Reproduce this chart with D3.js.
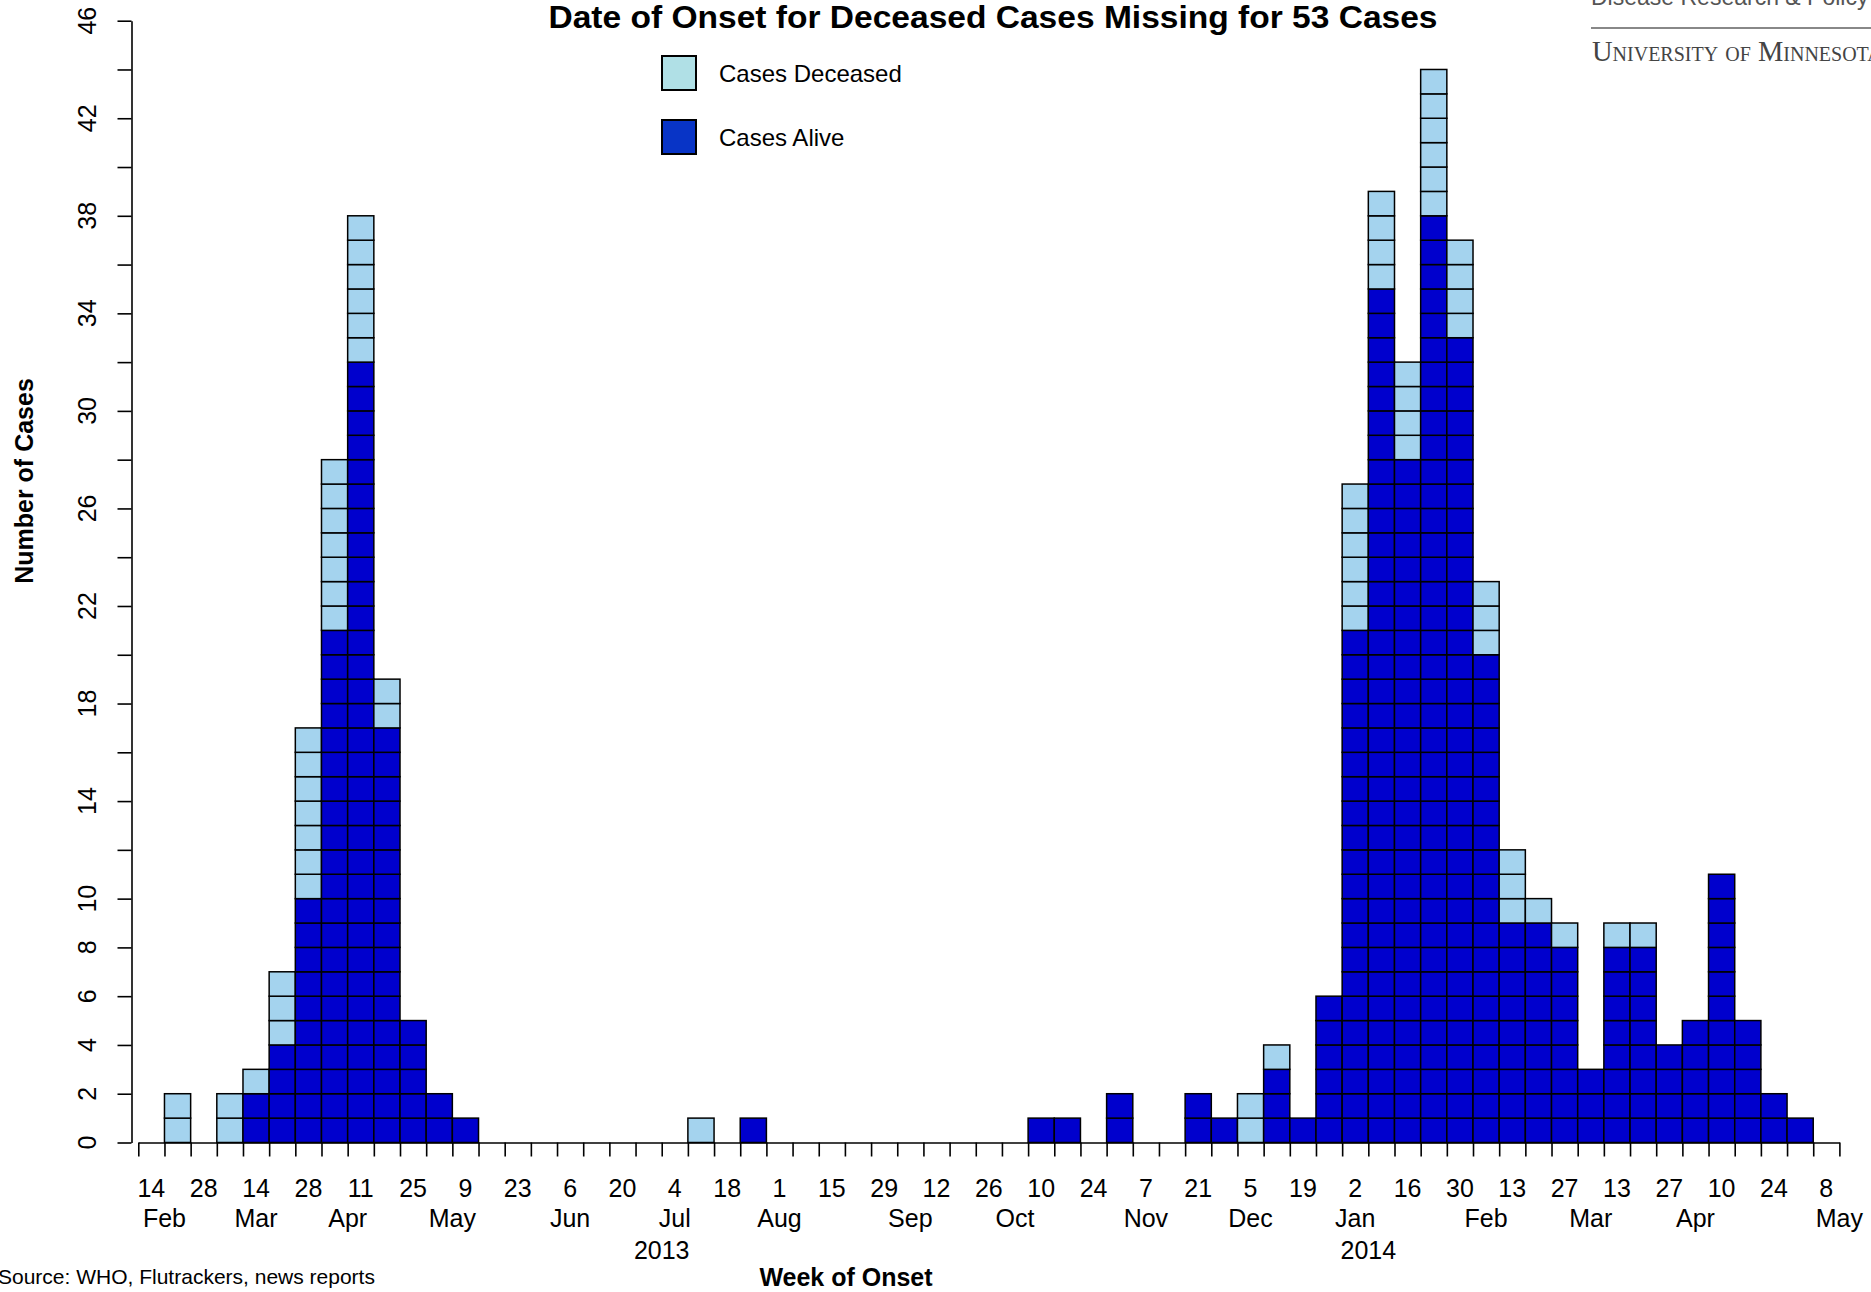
<!DOCTYPE html>
<html><head><meta charset="utf-8">
<script src="https://cdn.jsdelivr.net/npm/d3@7"></script>
<style>body{margin:0;background:#fff;overflow:hidden} svg{display:block}</style>
</head><body>
<svg id="chart" width="1871" height="1292"></svg>
<script>
// ---- data ----
const weekLabels = ["14","28","14","28","11","25","9","23","6","20","4","18","1","15","29","12","26","10","24","7","21","5","19","2","16","30","13","27","13","27","10","24","8"];
const monthLabels = ["Feb","Mar","Apr","May","Jun","Jul","Aug","Sep","Oct","Nov","Dec","Jan","Feb","Mar","Apr","May"];
const monthPositions = [1,4.5,8,12,16.5,20.5,24.5,29.5,33.5,38.5,42.5,46.5,51.5,55.5,59.5,65];
const yearLabels = ["2013","2014"];
const yearPositions = [20,47];
const casesAlive = [0,0,0,0,2,4,10,21,32,17,5,2,1,0,0,0,0,0,0,0,0,0,0,1,0,0,0,0,0,0,0,0,0,0,1,1,0,2,0,0,2,1,0,3,1,6,21,35,28,38,33,20,9,9,8,3,8,8,4,5,11,5,2,1,0];
const casesDeceased = [0,2,0,2,1,3,7,7,6,2,0,0,0,0,0,0,0,0,0,0,0,1,0,0,0,0,0,0,0,0,0,0,0,0,0,0,0,0,0,0,0,0,2,1,0,0,6,4,4,6,4,3,3,1,1,0,1,1,0,0,0,0,0,0,0];
const yTickValues = d3.range(0, 47, 2);
const yTickLabels = [0,2,4,6,8,10,14,18,22,26,30,34,38,42,46];
const seriesNames = ["Cases Deceased","Cases Alive"];

// ---- styles ----
const colAlive = "#0000CD", colDead = "#A4D3EE";
const legAlive = "#0834C6", legDead = "#B0E0E6";
const sans = "'Liberation Sans', Arial, sans-serif";
const serif = "'Liberation Serif', 'Times New Roman', serif";

const svg = d3.select("#chart");
const nWeeks = casesAlive.length;
const x = d3.scaleLinear().domain([0, nWeeks]).range([138.3, 1839.4]);
const y = d3.scaleLinear().domain([0, 46]).range([1142.5, 20.7]);

// ---- cells ----
const cells = [];
casesAlive.forEach((a, i) => {
  for (let k = 0; k < a; k++) cells.push({i, k, c: colAlive});
  for (let k = 0; k < casesDeceased[i]; k++) cells.push({i, k: a + k, c: colDead});
});
svg.append("g").selectAll("rect").data(cells).join("rect")
  .attr("x", d => x(d.i)).attr("width", d => x(d.i + 1) - x(d.i))
  .attr("y", d => y(d.k + 1)).attr("height", d => y(d.k) - y(d.k + 1))
  .attr("fill", d => d.c).attr("stroke", "#000").attr("stroke-width", 1.5);

// ---- x axis ----
const xAxis = svg.append("g").attr("transform", `translate(0,${y(0)})`)
  .call(d3.axisBottom(x).tickValues(d3.range(0, nWeeks + 1)).tickSize(14).tickSizeOuter(0).tickFormat(""));
xAxis.selectAll("path,line").attr("stroke", "#000").attr("stroke-width", 1.6);

const tx = svg.append("g").attr("font-family", sans).attr("fill", "#000").attr("text-anchor", "middle");
tx.selectAll("text.wk").data(weekLabels).join("text").attr("class","wk")
  .attr("x", (d, j) => x(2 * j + 0.5)).attr("y", 1197).attr("font-size", 25).text(d => d);
tx.selectAll("text.mo").data(monthLabels).join("text").attr("class","mo")
  .attr("x", (d, j) => x(monthPositions[j])).attr("y", 1227).attr("font-size", 25).text(d => d);
tx.selectAll("text.yr").data(yearLabels).join("text").attr("class","yr")
  .attr("x", (d, j) => x(yearPositions[j])).attr("y", 1259).attr("font-size", 25).text(d => d);

// ---- y axis ----
const yAxis = svg.append("g").attr("transform", "translate(131.5,0)")
  .call(d3.axisLeft(y).tickValues(yTickValues).tickSize(14).tickSizeOuter(0).tickFormat(""));
yAxis.selectAll("path,line").attr("stroke", "#000").attr("stroke-width", 1.6);
svg.append("g").selectAll("text").data(yTickLabels).join("text")
  .attr("transform", d => `translate(96,${y(d)}) rotate(-90)`)
  .attr("text-anchor", "middle").attr("font-family", sans).attr("font-size", 25).text(d => d);

// ---- titles ----
svg.append("text").attr("x", 993).attr("y", 28).attr("text-anchor", "middle")
  .attr("font-family", sans).attr("font-weight", "bold").attr("font-size", 31)
  .attr("textLength", 889).attr("lengthAdjust", "spacingAndGlyphs")
  .text("Date of Onset for Deceased Cases Missing for 53 Cases");
svg.append("text").attr("x", 846).attr("y", 1286).attr("text-anchor", "middle")
  .attr("font-family", sans).attr("font-weight", "bold").attr("font-size", 25).text("Week of Onset");
svg.append("text").attr("transform", "translate(33,481) rotate(-90)").attr("text-anchor", "middle")
  .attr("font-family", sans).attr("font-weight", "bold").attr("font-size", 25).text("Number of Cases");
svg.append("text").attr("x", -2).attr("y", 1284).attr("font-family", sans).attr("font-size", 21)
  .text("Source: WHO, Flutrackers, news reports");

// ---- legend ----
const leg = svg.append("g");
[legDead, legAlive].forEach((c, j) => {
  leg.append("rect").attr("x", 662).attr("y", 56 + j * 64).attr("width", 34).attr("height", 34)
    .attr("fill", c).attr("stroke", "#000").attr("stroke-width", 2);
  leg.append("text").attr("x", 719).attr("y", 82 + j * 64).attr("font-family", sans).attr("font-size", 24)
    .text(seriesNames[j]);
});

// ---- logo text ----
svg.append("text").attr("x", 1591).attr("y", 5).attr("font-family", sans).attr("font-size", 23)
  .attr("fill", "#555").text("Disease Research & Policy");
svg.append("line").attr("x1", 1591).attr("x2", 1871).attr("y1", 28).attr("y2", 28)
  .attr("stroke", "#888").attr("stroke-width", 2);
svg.append("text").attr("x", 1592).attr("y", 61).attr("font-family", serif).attr("font-size", 28.5)
  .attr("font-variant", "small-caps").attr("fill", "#444").text("University of Minnesota");
</script>
</body></html>
